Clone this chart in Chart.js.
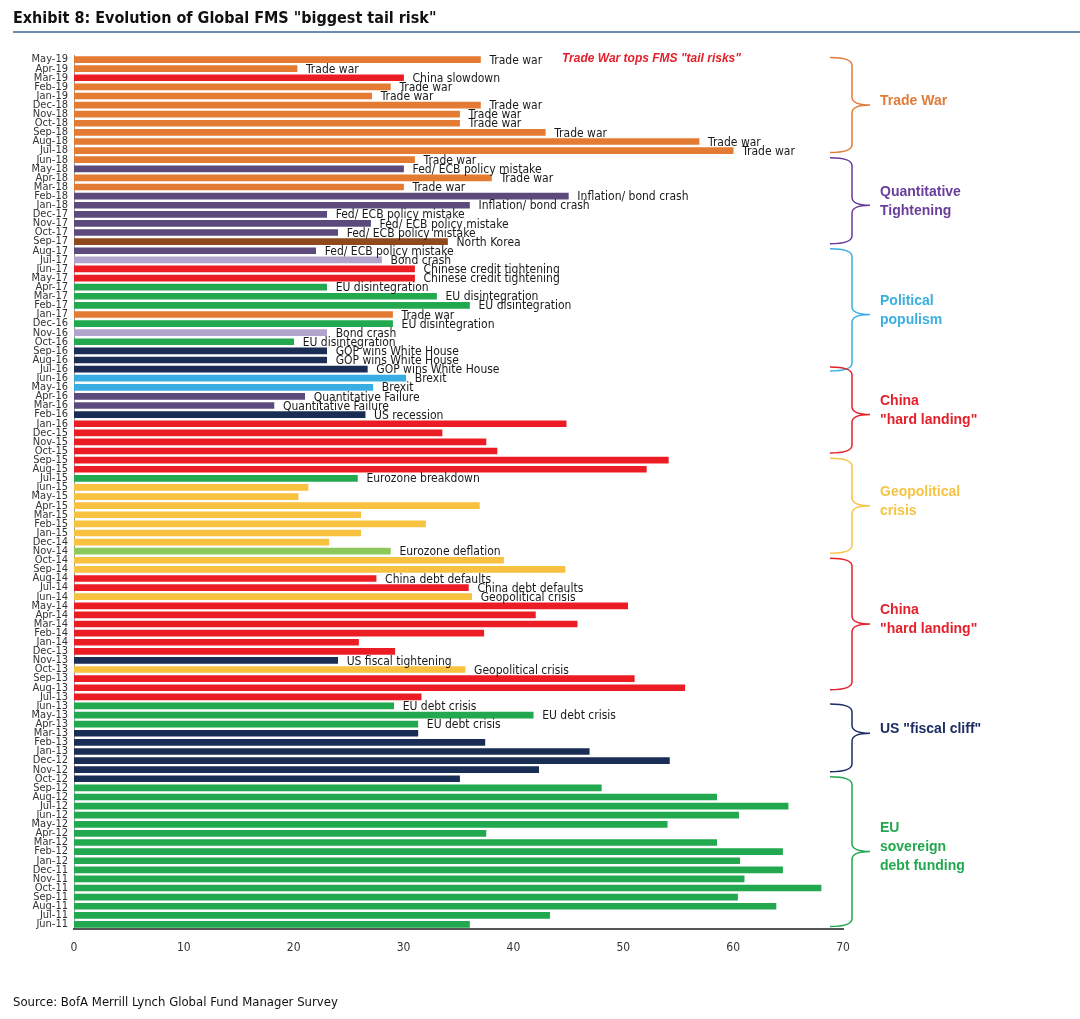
<!DOCTYPE html>
<html>
<head>
<meta charset="utf-8">
<script src="https://cdn.jsdelivr.net/npm/chart.js@4"></script>
<style>
  html, body { margin: 0; padding: 0; background: #fff; }
  #wrap { position: relative; width: 1080px; height: 1019px; }
</style>
</head>
<body>
<div id="wrap"><canvas id="chart"></canvas></div>
<script>
// months, newest on top (as in the exhibit)
const months = ['May-19','Apr-19','Mar-19','Feb-19','Jan-19','Dec-18','Nov-18','Oct-18','Sep-18','Aug-18','Jul-18','Jun-18',
  'May-18','Apr-18','Mar-18','Feb-18','Jan-18','Dec-17','Nov-17','Oct-17','Sep-17','Aug-17','Jul-17','Jun-17',
  'May-17','Apr-17','Mar-17','Feb-17','Jan-17','Dec-16','Nov-16','Oct-16','Sep-16','Aug-16','Jul-16','Jun-16',
  'May-16','Apr-16','Mar-16','Feb-16','Jan-16','Dec-15','Nov-15','Oct-15','Sep-15','Aug-15','Jul-15','Jun-15',
  'May-15','Apr-15','Mar-15','Feb-15','Jan-15','Dec-14','Nov-14','Oct-14','Sep-14','Aug-14','Jul-14','Jun-14',
  'May-14','Apr-14','Mar-14','Feb-14','Jan-14','Dec-13','Nov-13','Oct-13','Sep-13','Aug-13','Jul-13','Jun-13',
  'May-13','Apr-13','Mar-13','Feb-13','Jan-13','Dec-12','Nov-12','Oct-12','Sep-12','Aug-12','Jul-12','Jun-12',
  'May-12','Apr-12','Mar-12','Feb-12','Jan-12','Dec-11','Nov-11','Oct-11','Sep-11','Aug-11','Jul-11','Jun-11'];

// % of FMS respondents naming the biggest tail risk
const pct = [37.0,20.3,30.0,28.8,27.1,37.0,35.1,35.1,42.9,56.9,60.0,31.0,
  30.0,38.0,30.0,45.0,36.0,23.0,27.0,24.0,34.0,22.0,28.0,31.0,
  31.0,23.0,33.0,36.0,29.0,29.0,23.0,20.0,23.0,23.0,26.7,30.2,
  27.2,21.0,18.2,26.5,44.8,33.5,37.5,38.5,54.1,52.1,25.8,21.3,
  20.4,36.9,26.1,32.0,26.1,23.2,28.8,39.1,44.7,27.5,35.9,36.2,
  50.4,42.0,45.8,37.3,25.9,29.2,24.0,35.6,51.0,55.6,31.6,29.1,
  41.8,31.3,31.3,37.4,46.9,54.2,42.3,35.1,48.0,58.5,65.0,60.5,
  54.0,37.5,58.5,64.5,60.6,64.5,61.0,68.0,60.4,63.9,43.3,36.0];

// risk family of each month (drives the bar colour)
const riskType = ['trade','trade','china','trade','trade','trade','trade','trade','trade','trade','trade','trade',
  'fed','trade','trade','fed','fed','fed','fed','fed','nk','fed','bond','china',
  'china','eu','eu','eu','trade','eu','bond','eu','us','us','us','brexit',
  'brexit','fed','fed','us','china','china','china','china','china','china','eu','geo',
  'geo','geo','geo','geo','geo','geo','defl','geo','geo','china','china','geo',
  'china','china','china','china','china','china','us','geo','china','china','china','eu',
  'eu','eu','us','us','us','us','us','us','eu','eu','eu','eu',
  'eu','eu','eu','eu','eu','eu','eu','eu','eu','eu','eu','eu'];

// text written next to the bar ('' = none)
const riskText = ['Trade war','Trade war','China slowdown','Trade war','Trade war','Trade war','Trade war','Trade war','Trade war','Trade war','Trade war','Trade war',
  'Fed/ ECB policy mistake','Trade war','Trade war','Inflation/ bond crash','Inflation/ bond crash','Fed/ ECB policy mistake','Fed/ ECB policy mistake','Fed/ ECB policy mistake','North Korea','Fed/ ECB policy mistake','Bond crash','Chinese credit tightening',
  'Chinese credit tightening','EU disintegration','EU disintegration','EU disintegration','Trade war','EU disintegration','Bond crash','EU disintegration','GOP wins White House','GOP wins White House','GOP wins White House','Brexit',
  'Brexit','Quantitative Failure','Quantitative Failure','US recession','','','','','','','Eurozone breakdown','',
  '','','','','','','Eurozone deflation','','','China debt defaults','China debt defaults','Geopolitical crisis',
  '','','','','','','US fiscal tightening','Geopolitical crisis','','','','EU debt crisis',
  'EU debt crisis','EU debt crisis','','','','','','','','','','',
  '','','','','','','','','','','',''];

const xTicks = [0,10,20,30,40,50,60,70];

// bracketed regimes on the right: name lines, first/last month covered, month the brace points at
const regimes = [
  { lines: ['Trade War'], from: 'May-19', to: 'Jul-18', tip: 'Dec-18', color: '#E07B39' },
  { lines: ['Quantitative', 'Tightening'], from: 'Jun-18', to: 'Sep-17', tip: 'Jan-18', color: '#6A3D9A' },
  { lines: ['Political', 'populism'], from: 'Aug-17', to: 'Jul-16', tip: 'Jan-17', color: '#3AAFE0' },
  { lines: ['China', '"hard landing"'], from: 'Jul-16', to: 'Oct-15', tip: 'Feb-16', color: '#E3202B' },
  { lines: ['Geopolitical', 'crisis'], from: 'Sep-15', to: 'Nov-14', tip: 'Apr-15', color: '#F6C443' },
  { lines: ['China', '"hard landing"'], from: 'Oct-14', to: 'Aug-13', tip: 'Mar-14', color: '#E3202B' },
  { lines: ['US "fiscal cliff"'], from: 'Jun-13', to: 'Nov-12', tip: 'Mar-13', color: '#1B2D63' },
  { lines: ['EU', 'sovereign', 'debt funding'], from: 'Oct-12', to: 'Jun-11', tip: 'Feb-12', color: '#22A84E' }
];

const typeColor = {
  trade: '#E47B33', china: '#EC1C24', fed: '#5C4A7D', nk: '#8E4A1C', bond: '#B2A5CB',
  eu: '#22A84E', us: '#1A2D55', brexit: '#38ADE4', geo: '#F8C13F', defl: '#8DC85B'
};

const NARROW = "'Liberation Sans Narrow', 'DejaVu Sans Condensed', 'Arial Narrow', sans-serif";
const WIDE = "'Liberation Sans', Arial, sans-serif";

const decor = {
  id: 'decor',
  afterDatasetsDraw(chart) {
    const { ctx, scales: { x, y } } = chart;
    const meta = chart.getDatasetMeta(0);
    ctx.save();
    // text after each bar
    ctx.font = '12px ' + NARROW;
    ctx.fillStyle = '#1a1a1a';
    ctx.textBaseline = 'middle';
    ctx.textAlign = 'left';
    meta.data.forEach((bar, i) => {
      if (!riskText[i]) return;
      ctx.fillText(riskText[i], bar.x + 9, bar.y + 1);
    });

    // red call-out
    ctx.font = 'italic bold 12px ' + WIDE;
    ctx.fillStyle = '#E3202B';
    ctx.fillText('Trade War tops FMS "tail risks"', 562, 59);

    // braces
    const xl = 830, xv = 852, xt = 870, r = 8;
    regimes.forEach(g => {
      const y0 = y.getPixelForValue(months.indexOf(g.from)) - 2;
      const y1 = y.getPixelForValue(months.indexOf(g.to)) + 2;
      const ym = y.getPixelForValue(months.indexOf(g.tip));
      ctx.strokeStyle = g.color;
      ctx.lineWidth = 1.5;
      ctx.beginPath();
      ctx.moveTo(xl, y0);
      ctx.quadraticCurveTo(xv, y0, xv, y0 + r);
      ctx.lineTo(xv, ym - r);
      ctx.quadraticCurveTo(xv, ym, xt, ym);
      ctx.quadraticCurveTo(xv, ym, xv, ym + r);
      ctx.lineTo(xv, y1 - r);
      ctx.quadraticCurveTo(xv, y1, xl, y1);
      ctx.stroke();
      ctx.font = 'bold 14px ' + WIDE;
      ctx.fillStyle = g.color;
      ctx.textBaseline = 'middle';
      const lh = 19;
      const top = ym - (g.lines.length - 1) * lh / 2;
      g.lines.forEach((t, k) => ctx.fillText(t, 880, top + k * lh - 4));
    });

    // title, rule and source
    ctx.font = 'bold 16px ' + NARROW;
    ctx.fillStyle = '#111';
    ctx.textBaseline = 'alphabetic';
    ctx.fillText('Exhibit 8: Evolution of Global FMS "biggest tail risk"', 13, 23);
    ctx.strokeStyle = '#6F8DB3';
    ctx.lineWidth = 2;
    ctx.beginPath();
    ctx.moveTo(13, 32); ctx.lineTo(1080, 32);
    ctx.stroke();
    ctx.font = '13px ' + NARROW;
    ctx.fillStyle = '#111';
    ctx.fillText('Source: BofA Merrill Lynch Global Fund Manager Survey', 13, 1006);
    ctx.restore();
  }
};

new Chart(document.getElementById('chart'), {
  type: 'bar',
  data: {
    labels: months,
    datasets: [{
      data: pct,
      backgroundColor: riskType.map(t => typeColor[t]),
      barThickness: 6,
      borderWidth: 0
    }]
  },
  options: {
    indexAxis: 'y',
    responsive: true,
    maintainAspectRatio: false,
    animation: false,
    layout: { padding: { left: 0, top: 55, right: 237, bottom: 60 } },
    plugins: { legend: { display: false }, tooltip: { enabled: false } },
    scales: {
      y: {
        afterFit(s) { s.width = 74; },
        grid: { display: false, drawTicks: false },
        border: { display: true, color: '#9a9a9a', width: 1 },
        ticks: { autoSkip: false, padding: 6, color: '#333', font: { family: NARROW, size: 11 } }
      },
      x: {
        min: 0, max: 70,
        afterFit(s) { s.height = 30; },
        afterBuildTicks(s) { s.ticks = xTicks.map(v => ({ value: v })); },
        grid: { display: false, drawTicks: false },
        border: { display: true, color: '#555', width: 2 },
        ticks: { padding: 12, color: '#333', font: { family: NARROW, size: 12 } }
      }
    }
  },
  plugins: [decor]
});
</script>
</body>
</html>
